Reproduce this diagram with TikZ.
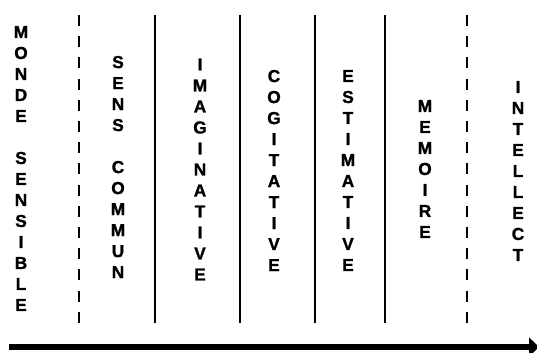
\documentclass[tikz,border=0pt]{standalone}
\usepackage{fontspec}
\setmainfont{Liberation Sans}
\newfontfamily\heavyfont[FakeBold=1.2]{Liberation Sans Bold}
\usetikzlibrary{arrows.meta}
\begin{document}
\begin{tikzpicture}[x=0.75pt,y=-0.75pt,
  col/.style={font=\heavyfont\fontsize{13}{15.75}\selectfont, align=center, inner sep=0pt},
  sep/.style={line width=1.5pt},
  dsep/.style={line width=1.5pt, dash pattern=on 8.25pt off 7.65pt},
  flow/.style={line width=4pt, -{Triangle[length=7.5pt,width=14pt]}}]
\useasboundingbox (0,0) rectangle (537,353);
% separators
\coordinate (d1t) at (79,15);  \coordinate (d1b) at (79,323);
\coordinate (s1t) at (155,15); \coordinate (s1b) at (155,323);
\coordinate (s2t) at (240,15); \coordinate (s2b) at (240,323);
\coordinate (s3t) at (315,15); \coordinate (s3b) at (315,323);
\coordinate (s4t) at (385,15); \coordinate (s4b) at (385,323);
\coordinate (d2t) at (467,15); \coordinate (d2b) at (467,323);
\draw[dsep] (d1t) -- (d1b);
\draw[sep] (s1t) -- (s1b);
\draw[sep] (s2t) -- (s2b);
\draw[sep] (s3t) -- (s3b);
\draw[sep] (s4t) -- (s4b);
\draw[dsep] (d2t) -- (d2b);
% columns
\node[col] (monde) at (21,168.5) {M\\O\\N\\D\\E\\~\\S\\E\\N\\S\\I\\B\\L\\E};
\node[col] (sens) at (118,167) {S\\E\\N\\S\\~\\C\\O\\M\\M\\U\\N};
\node[col] (imag) at (200,169.5) {I\\M\\A\\G\\I\\N\\A\\T\\I\\V\\E};
\node[col] (cogit) at (274,170.5) {C\\O\\G\\I\\T\\A\\T\\I\\V\\E};
\node[col] (estim) at (348,170.5) {E\\S\\T\\I\\M\\A\\T\\I\\V\\E};
\node[col] (memo) at (425,169) {M\\E\\M\\O\\I\\R\\E};
\node[col] (intel) at (518,171) {I\\N\\T\\E\\L\\L\\E\\C\\T};
% arrow
\coordinate (a0) at (9,347);
\coordinate (a1) at (539,347);
\draw[flow] (a0) -- (a1);
\end{tikzpicture}
\end{document}
